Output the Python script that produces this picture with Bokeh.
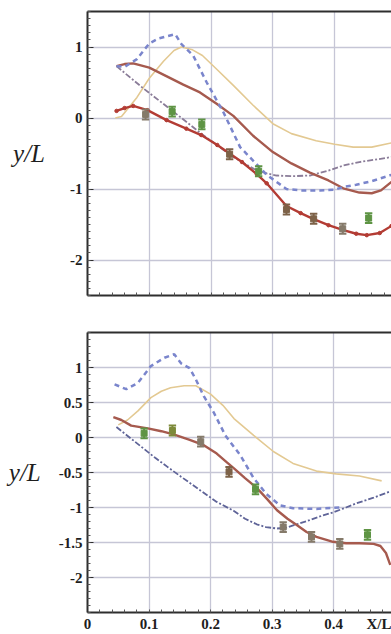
from bokeh.plotting import figure
from bokeh.layouts import column
from bokeh.models import Range1d, LinearAxis, FixedTicker
from bokeh.embed import file_html
from bokeh.resources import INLINE

# ---------------- data ----------------
X_GRID = [0.1, 0.2, 0.3, 0.4]
X_TICKS = [0, 0.1, 0.2, 0.3, 0.4, 0.479]
X_TICK_LABELS = ["0", "0.1", "0.2", "0.3", "0.4", "X/L"]
TOP_Y_TICKS = [-2, -1, 0, 1]
TOP_Y_LABELS = ["-2", "-1", "0", "1"]
BOT_Y_TICKS = [-2, -1.5, -1, -0.5, 0, 0.5, 1]
BOT_Y_LABELS = ["-2", "-1.5", "-1", "-0.5", "0", "0.5", "1"]
Y_TITLE = "y/L"

# top panel
top_tan_x = [0.045, 0.055, 0.08, 0.10, 0.123, 0.14, 0.152, 0.17, 0.186, 0.21, 0.236, 0.268, 0.30, 0.33, 0.37, 0.40, 0.43, 0.46, 0.492]
top_tan_y = [0.0, 0.02, 0.29, 0.56, 0.80, 0.95, 1.0, 0.96, 0.88, 0.68, 0.46, 0.18, -0.08, -0.22, -0.32, -0.37, -0.41, -0.41, -0.35]

top_blue_x = [0.047, 0.06, 0.08, 0.10, 0.115, 0.128, 0.142, 0.152, 0.171, 0.193, 0.22, 0.247, 0.268, 0.29, 0.306, 0.322, 0.345, 0.376, 0.40, 0.414, 0.435, 0.46, 0.492]
top_blue_y = [0.73, 0.72, 0.83, 1.05, 1.12, 1.15, 1.18, 1.04, 0.88, 0.50, 0.08, -0.41, -0.60, -0.80, -0.90, -1.0, -1.02, -1.02, -1.01, -0.97, -0.94, -0.89, -0.80]

top_brown_x = [0.047, 0.06, 0.074, 0.10, 0.13, 0.155, 0.182, 0.209, 0.236, 0.268, 0.30, 0.33, 0.36, 0.39, 0.414, 0.44, 0.46, 0.475, 0.492]
top_brown_y = [0.73, 0.76, 0.77, 0.71, 0.58, 0.47, 0.36, 0.20, 0.03, -0.25, -0.48, -0.64, -0.77, -0.88, -0.99, -1.05, -1.06, -1.02, -0.90]

top_dd_x = [0.047, 0.09, 0.139, 0.184, 0.236, 0.27, 0.29, 0.306, 0.33, 0.36, 0.39, 0.414, 0.44, 0.463, 0.492]
top_dd_y = [0.73, 0.42, 0.09, -0.22, -0.55, -0.72, -0.78, -0.81, -0.82, -0.81, -0.74, -0.67, -0.62, -0.59, -0.55]

top_red_x = [0.047, 0.06, 0.074, 0.097, 0.128, 0.16, 0.184, 0.21, 0.23, 0.25, 0.274, 0.29, 0.322, 0.345, 0.365, 0.39, 0.414, 0.435, 0.452, 0.473, 0.492]
top_red_y = [0.10, 0.14, 0.17, 0.11, -0.03, -0.15, -0.24, -0.38, -0.50, -0.62, -0.79, -0.92, -1.24, -1.34, -1.42, -1.51, -1.58, -1.63, -1.65, -1.62, -1.52]

top_pts_x = [0.094, 0.137, 0.185, 0.23, 0.277, 0.322, 0.366, 0.413, 0.455]
top_pts_y = [0.05, 0.09, -0.09, -0.51, -0.75, -1.29, -1.42, -1.56, -1.41]
top_pts_kind = ["gray", "green", "green", "brown", "green", "brown", "brown", "gray", "green"]

# bottom panel
bot_blue_x = [0.044, 0.063, 0.082, 0.103, 0.125, 0.141, 0.152, 0.166, 0.176, 0.189, 0.205, 0.224, 0.248, 0.27, 0.291, 0.313, 0.334, 0.372, 0.41]
bot_blue_y = [0.76, 0.69, 0.78, 1.02, 1.14, 1.19, 1.06, 0.99, 0.83, 0.59, 0.36, 0.03, -0.25, -0.58, -0.81, -0.97, -1.01, -1.02, -1.0]

bot_tan_x = [0.05, 0.065, 0.082, 0.103, 0.12, 0.135, 0.157, 0.176, 0.2, 0.22, 0.238, 0.27, 0.302, 0.334, 0.372, 0.404, 0.442, 0.478]
bot_tan_y = [0.18, 0.25, 0.38, 0.57, 0.66, 0.71, 0.74, 0.74, 0.62, 0.46, 0.27, 0.03, -0.20, -0.37, -0.48, -0.52, -0.55, -0.62]

bot_brown_x = [0.042, 0.055, 0.071, 0.098, 0.12, 0.141, 0.165, 0.189, 0.21, 0.227, 0.238, 0.256, 0.275, 0.292, 0.308, 0.325, 0.34, 0.356, 0.372, 0.399, 0.42, 0.442, 0.465, 0.476, 0.485, 0.492]
bot_brown_y = [0.29, 0.25, 0.17, 0.13, 0.09, 0.04, -0.03, -0.11, -0.23, -0.36, -0.44, -0.58, -0.72, -0.88, -1.04, -1.16, -1.25, -1.35, -1.42, -1.49, -1.51, -1.51, -1.52, -1.55, -1.65, -1.82]

bot_dd_x = [0.047, 0.08, 0.11, 0.13, 0.152, 0.184, 0.21, 0.238, 0.256, 0.275, 0.29, 0.308, 0.322, 0.34, 0.361, 0.38, 0.399, 0.42, 0.437, 0.465, 0.492]
bot_dd_y = [0.15, -0.08, -0.29, -0.42, -0.56, -0.76, -0.92, -1.05, -1.16, -1.24, -1.28, -1.30, -1.29, -1.24, -1.18, -1.12, -1.07, -1.0, -0.94, -0.86, -0.77]

bot_pts_x = [0.092, 0.138, 0.184, 0.23, 0.273, 0.318, 0.364, 0.41, 0.455]
bot_pts_y = [0.06, 0.10, -0.06, -0.49, -0.74, -1.28, -1.42, -1.52, -1.39]
bot_pts_kind = ["green", "olive", "gray", "brown", "green", "gray", "gray", "gray", "green"]

ERR = 0.07

# ---------------- styling ----------------
SERIF = "Liberation Serif"
AXIS_COL = "#2e2e2e"
GRID_COL = "#c6c6d6"
C_TAN = "#e3c992"
C_BLUE = "#7a85cc"
C_BROWN = "#a65a4e"
C_DD_TOP = "#8a7c98"
C_DD_BOT = "#5f6498"
C_RED = "#b33c34"
KIND_COL = {"green": "#5e9444", "olive": "#7d8a3a", "gray": "#857a6a", "brown": "#7d6248"}


def minor(lo, hi, step):
    n = int(round((hi - lo) / step))
    return [round(lo + i * step, 4) for i in range(n + 1)]


def make_panel(height, b_top, b_bottom, b_left, x_end, yticks, ylabels, show_x_labels, y_standoff):
    p = figure(width=391, height=height, x_range=Range1d(0, x_end), y_range=Range1d(-2.5, 1.5),
               output_backend="svg", toolbar_location=None,
               min_border_left=b_left, min_border_right=0, min_border_top=b_top,
               min_border_bottom=b_bottom)
    p.outline_line_color = None
    p.background_fill_color = "white"
    p.border_fill_color = "white"

    if show_x_labels:
        p.xaxis.ticker = FixedTicker(ticks=X_TICKS, minor_ticks=minor(0, 0.5, 0.02))
        p.xaxis.major_label_overrides = {t: l for t, l in zip(X_TICKS, X_TICK_LABELS)}
        p.xaxis.major_label_standoff = 3
    else:
        p.xaxis.ticker = FixedTicker(ticks=[], minor_ticks=minor(0, 0.5, 0.02))
        p.xaxis.major_label_standoff = 0
    p.yaxis.ticker = FixedTicker(ticks=yticks, minor_ticks=minor(-2.5, 1.5, 0.1))
    p.yaxis.major_label_overrides = {t: l for t, l in zip(yticks, ylabels)}
    for ax in (p.xaxis, p.yaxis):
        ax.axis_line_color = AXIS_COL
        ax.axis_line_width = 2
        ax.major_tick_out = 0
        ax.minor_tick_in = 3
        ax.minor_tick_out = 0
        ax.major_tick_line_color = AXIS_COL
        ax.minor_tick_line_color = "#555555"
        ax.major_label_text_font = SERIF
        ax.major_label_text_font_style = "bold"
        ax.major_label_text_font_size = "15px"
        ax.major_label_text_color = "#1e1e1e"
    p.xaxis.major_tick_in = 0
    p.yaxis.major_tick_in = 6
    p.yaxis.major_label_standoff = 5
    p.yaxis.axis_label = Y_TITLE
    p.yaxis.axis_label_orientation = "horizontal"
    p.yaxis.axis_label_text_font = SERIF
    p.yaxis.axis_label_text_font_style = "italic"
    p.yaxis.axis_label_text_font_size = "25px"
    p.yaxis.axis_label_text_color = "#1e1e1e"
    p.yaxis.axis_label_standoff = y_standoff

    top_ax = LinearAxis(ticker=FixedTicker(ticks=[]), axis_line_color=AXIS_COL, axis_line_width=2,
                        major_tick_in=0, major_tick_out=0, minor_tick_in=0, minor_tick_out=0,
                        major_label_standoff=0)
    p.add_layout(top_ax, "above")

    p.xgrid.ticker = FixedTicker(ticks=X_GRID)
    p.xgrid.grid_line_color = GRID_COL
    p.ygrid.grid_line_color = GRID_COL
    p.xgrid.grid_line_width = 1.3
    p.ygrid.grid_line_width = 1.3
    return p


def draw_points(p, xs, ys, kinds):
    cols = [KIND_COL[k] for k in kinds]
    w = 0.006
    lo = [y - ERR for y in ys]
    hi = [y + ERR for y in ys]
    p.segment(x0=xs, y0=lo, x1=xs, y1=hi, line_color=cols, line_width=2)
    p.segment(x0=[x - w for x in xs], y0=lo, x1=[x + w for x in xs], y1=lo, line_color=cols, line_width=2)
    p.segment(x0=[x - w for x in xs], y0=hi, x1=[x + w for x in xs], y1=hi, line_color=cols, line_width=2)
    p.scatter(xs, ys, marker="square", size=6, fill_color=cols, line_color=cols)


# ---------------- top panel ----------------
p1 = make_panel(300, 11, 5, 87, 0.492, TOP_Y_TICKS, TOP_Y_LABELS, False, 22)
p1.line(top_tan_x, top_tan_y, line_color=C_TAN, line_width=1.6)
p1.line(top_dd_x, top_dd_y, line_color=C_DD_TOP, line_width=1.8, line_dash="6 2 2 2")
p1.line(top_brown_x, top_brown_y, line_color=C_BROWN, line_width=2.4)
p1.line(top_blue_x, top_blue_y, line_color=C_BLUE, line_width=2.5, line_dash="5 4")
p1.line(top_red_x, top_red_y, line_color=C_RED, line_width=2.4)
p1.scatter(top_red_x, top_red_y, marker="circle", size=3.5, fill_color=C_RED, line_color=C_RED)
draw_points(p1, top_pts_x, top_pts_y, top_pts_kind)

# ---------------- bottom panel ----------------
p2 = make_panel(334, 32, 20, 85, 0.494, BOT_Y_TICKS, BOT_Y_LABELS, True, 15)
p2.line(bot_tan_x, bot_tan_y, line_color=C_TAN, line_width=1.6)
p2.line(bot_dd_x, bot_dd_y, line_color=C_DD_BOT, line_width=1.8, line_dash="6 2 2 2")
p2.line(bot_blue_x, bot_blue_y, line_color=C_BLUE, line_width=2.5, line_dash="5 4")
p2.line(bot_brown_x, bot_brown_y, line_color=C_BROWN, line_width=2.4)
draw_points(p2, bot_pts_x, bot_pts_y, bot_pts_kind)

layout = column(p1, p2, spacing=0)
open("out.html", "w").write(file_html(layout, INLINE))
